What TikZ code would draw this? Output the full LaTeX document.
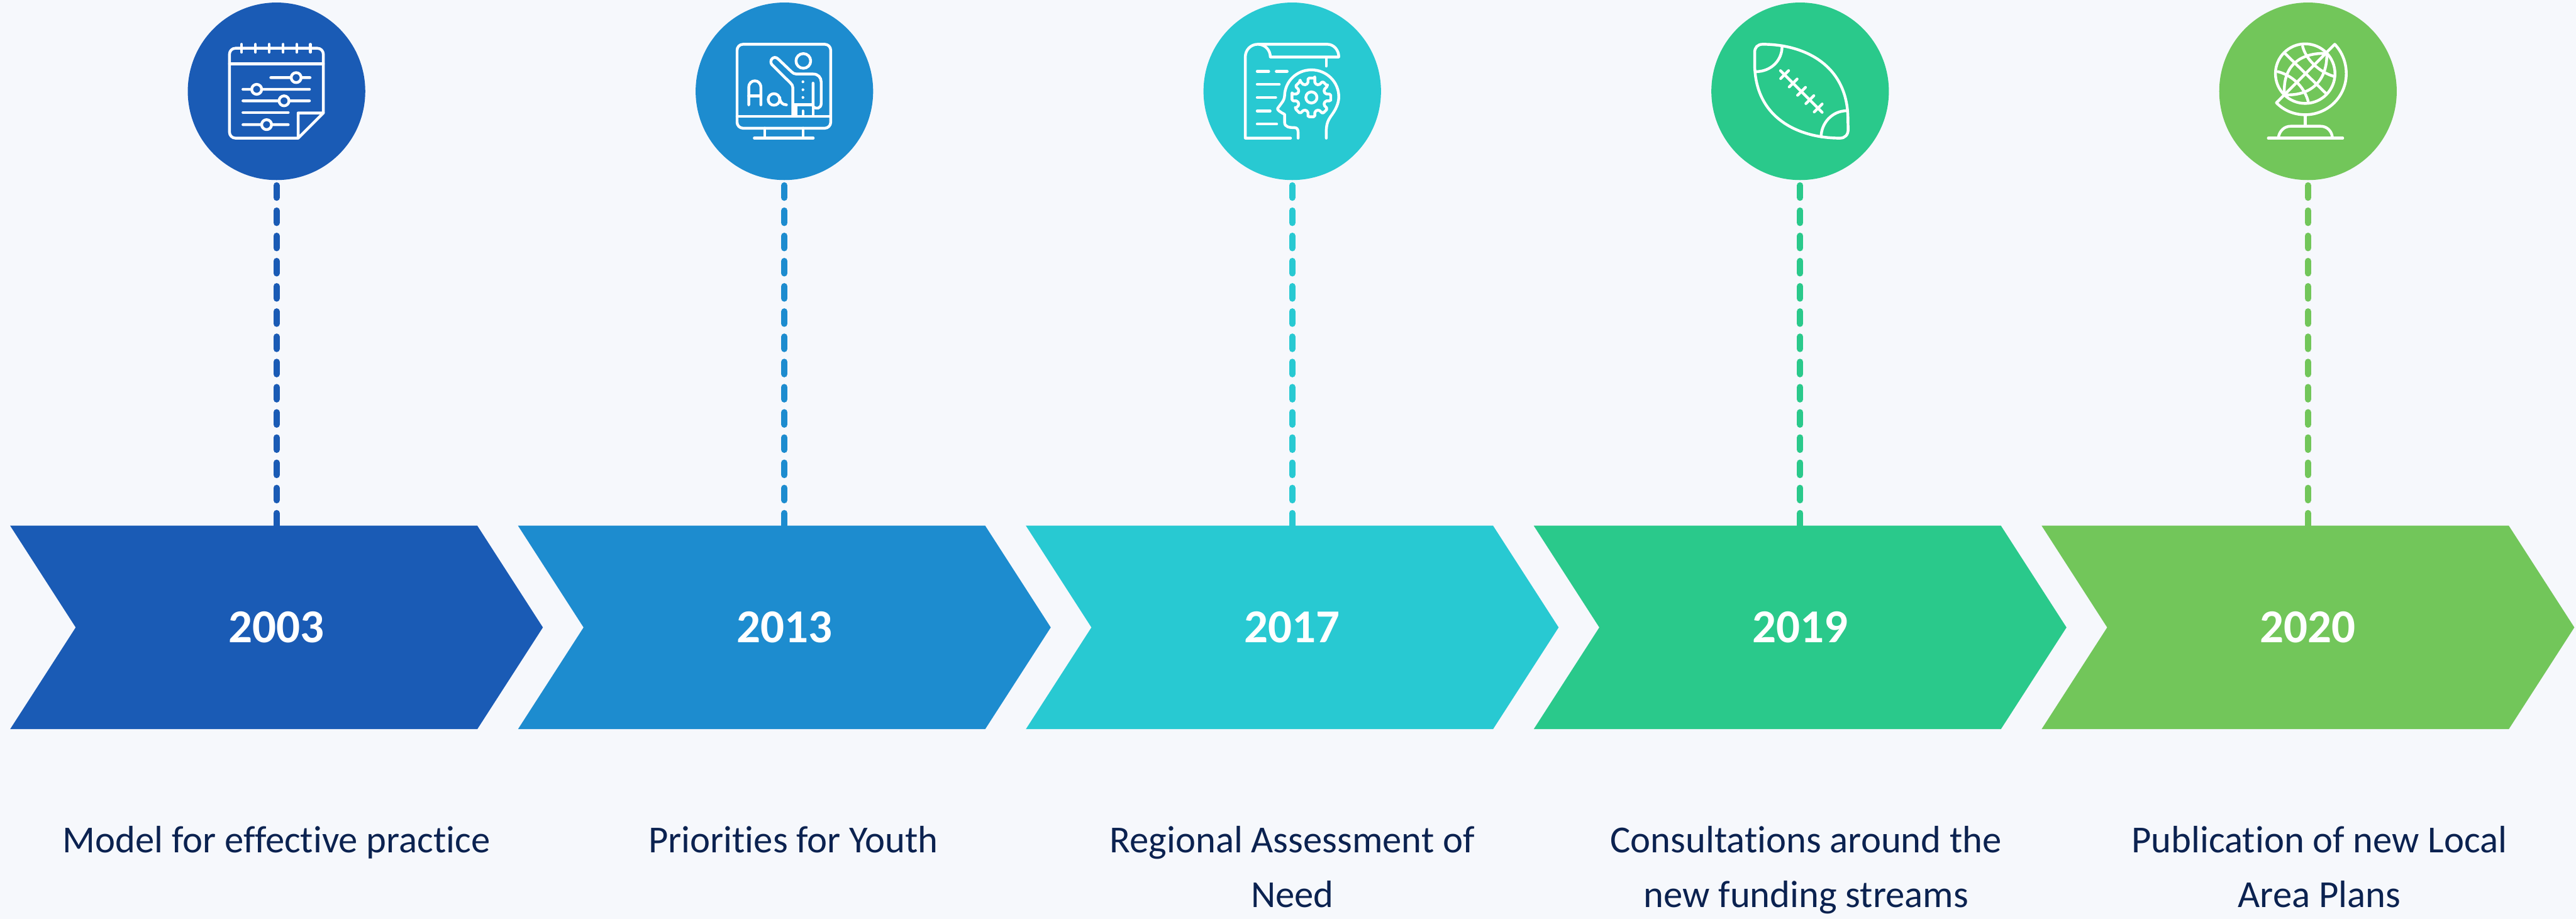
\documentclass[tikz,border=0pt]{standalone}
\usepackage{fontspec}
\setmainfont{Carlito}[Ligatures=NoCommon]
\usetikzlibrary{shapes}
\definecolor{pagecol}{HTML}{F6F8FC}
\definecolor{textcol}{HTML}{0B2250}
\definecolor{col1}{HTML}{1A5BB5}
\definecolor{col2}{HTML}{1D8CCF}
\definecolor{col3}{HTML}{28C9D2}
\definecolor{col4}{HTML}{2AC98B}
\definecolor{col5}{HTML}{72C65A}

\begin{document}
\begin{tikzpicture}[node distance=8.513cm,
    year node/.style={signal,signal from=west,signal to=east,signal pointer angle=114.4,minimum width=8.93cm,minimum height=3.41cm,inner sep=0pt,outer sep=0pt,text=white,font=\fontsize{22.5}{27}\selectfont\bfseries},
    icon node/.style={circle,minimum size=2.975cm,inner sep=0pt,outer sep=0pt,node distance=8.985cm},
    caption node/.style={node distance=3.14cm,anchor=north,text width=8cm,align=flush center,inner sep=0pt,outer sep=0pt,text=textcol,font=\fontsize{18.2}{25.9}\selectfont,execute at begin node=\strut},
    dash line/.style={line width=.107cm,line cap=round,dash pattern=on .205cm off .2175cm,shorten <=.09cm},
    icon line/.style={draw=white,line width=.0467cm,line cap=round,line join=round}]

    \path[fill=pagecol,use as bounding box] (0,0) rectangle (43.18,-15.4);

    \node[year node,fill=col1] (2003) at (4.635,-10.515) {2003};
    \node[year node,fill=col2] (2013) [right of = 2003] {2013};
    \node[year node,fill=col3] (2017) [right of = 2013] {2017};
    \node[year node,fill=col4] (2019) [right of = 2017] {2019};
    \node[year node,fill=col5] (2020) [right of = 2019] {2020};

    \node[icon node,fill=col1] (i2003) [above of = 2003] {};
    \node[icon node,fill=col2] (i2013) [above of = 2013] {};
    \node[icon node,fill=col3] (i2017) [above of = 2017] {};
    \node[icon node,fill=col4] (i2019) [above of = 2019] {};
    \node[icon node,fill=col5] (i2020) [above of = 2020] {};

    \node (t2003) [below of = 2003,caption node] {Model for effective practice};
    \node (t2013) [below of = 2013,caption node,xshift=.15cm] {Priorities for Youth};
    \node (t2017) [below of = 2017,caption node] {Regional Assessment of\\Need};
    \node (t2019) [below of = 2019,caption node,xshift=.1cm] {Consultations around the\\new funding streams};
    \node (t2020) [below of = 2020,caption node,xshift=.19cm] {Publication of new Local\\Area Plans};

    \draw[dash line,col1] (i2003.south) -- (2003.north);
    \draw[dash line,col2] (i2013.south) -- (2013.north);
    \draw[dash line,col3] (i2017.south) -- (2017.north);
    \draw[dash line,col4] (i2019.south) -- (2019.north);
    \draw[dash line,col5] (i2020.south) -- (2020.north);

    % calendar
    \begin{scope}[shift={(i2003.center)},x=.003333cm,y=-.003333cm,shift={(-551,-459)},icon line]
        \draw[rounded corners=.1cm] (660,695) -- (314,695) -- (314,242) -- (787,242) -- (787,568);
        \draw (787,568) -- (660,695) -- (660,568) -- (787,568);
        \draw (314,320) -- (787,320);
        \foreach \x in {375,445,514,584,653,722} \draw (\x,222) -- (\x,262);
        \draw (522,390) -- (622,390) (650,390) circle[radius=25] (680,390) -- (720,390);
        \draw (382,449) -- (422,449) (451,449) circle[radius=25] (482,449) -- (717,449);
        \draw (382,507) -- (560,507) (589,507) circle[radius=25] (618,507) -- (717,507);
        \draw (382,566) -- (610,566);
        \draw (382,627) -- (472,627) (501,627) circle[radius=25] (530,627) -- (610,627);
    \end{scope}

    % screen with teacher
    \begin{scope}[shift={(i2013.center)},x=.003333cm,y=-.003333cm,shift={(-554.5,-459)},icon line]
        \draw[rounded corners=.1cm] (316,222) rectangle (788,645);
        \draw (316,586) -- (788,586);
        \draw (456,645) -- (456,695) (648,645) -- (648,695) (403,695) -- (700,695);
        \draw (650,306) circle[radius=37];
        \draw (597,580) -- (597,440) .. controls (597,430) and (592,424) .. (585,417) -- (492,325)
            .. controls (475,305) and (500,275) .. (522,295) -- (590,360)
            .. controls (598,368) and (605,372) .. (615,372) -- (700,372)
            .. controls (725,372) and (740,390) .. (740,412) -- (740,520)
            .. controls (740,545) and (715,552) .. (699,535) -- (699,418);
        \draw (604,527) -- (699,527) (612,527) -- (612,580) (699,527) -- (699,580) (648,558) -- (648,580);
        \foreach \y in {411,451,490} \fill[white] (648,\y) circle[radius=7];
        \draw (375,527) -- (375,440) .. controls (375,395) and (436,395) .. (436,440) -- (436,527);
        \draw (375,482) -- (436,482);
        \draw (502,500) circle[radius=29];
        \draw (531,490) .. controls (532,515) and (545,527) .. (565,527);
    \end{scope}

    % scroll and head with gear
    \begin{scope}[shift={(i2017.center)},x=.003333cm,y=-.003333cm,shift={(-558.5,-459)},icon line]
        \draw (550,695) -- (322,695) -- (322,285) .. controls (322,250) and (350,222) .. (385,222) -- (735,222)
            .. controls (767,222) and (793,250) .. (793,286) -- (448,286) .. controls (448,250) and (420,222) .. (385,222);
        \draw (730,292) -- (730,332);
        \draw (382,359) -- (440,359) (478,359) -- (533,359) (382,424) -- (493,424);
        \draw (382,490) -- (475,490) (382,558) -- (447,558) (382,624) -- (480,624);
        \draw (730,695) -- (730,655) .. controls (732,620) and (738,605) .. (760,575)
            .. controls (785,540) and (793,510) .. (793,487) .. controls (793,410) and (730,351) .. (655,351)
            .. controls (580,351) and (522,410) .. (520,480) .. controls (519,495) and (515,505) .. (505,518)
            -- (485,545) .. controls (480,552) and (500,565) .. (520,575) -- (520,615)
            .. controls (520,640) and (545,642) .. (570,642) .. controls (585,642) and (588,655) .. (588,665) -- (588,695);
        \begin{scope}[shift={(655,490)}]
            \draw (0,0) circle[radius=28];
            \draw[rounded corners=.02cm] (10:99) \foreach \a in {45,90,...,360} { -- ({\a-35}:99) -- ({\a-31}:72) -- ({\a-14}:72) -- ({\a-10}:99) -- ({\a+10}:99) } -- cycle;
        \end{scope}
    \end{scope}

    % ball
    \begin{scope}[shift={(i2019.center)},x=.003333cm,y=-.003333cm,shift={(-534,-459)},icon line]
        \draw (345,222) .. controls (560,222) and (775,330) .. (775,600) -- (776,650)
            .. controls (777,678) and (760,695) .. (735,695) .. controls (520,695) and (305,590) .. (305,320) -- (305,262)
            .. controls (305,238) and (320,222) .. (345,222) -- cycle;
        \draw (443,230) .. controls (445,300) and (390,360) .. (310,360);
        \draw (640,688) .. controls (640,620) and (695,557) .. (770,557);
        \draw (435,355) -- (645,565);
        \foreach \x/\y in {456/375,499/417,541/459,583/501,625/543} \draw (\x+20,\y-20) -- (\x-20,\y+20);
    \end{scope}

    % globe
    \begin{scope}[shift={(i2020.center)},x=.003333cm,y=-.003333cm,shift={(-537,-459)},icon line]
        \draw (523,370) circle[radius=150];
        \draw (378,517) -- (672,222) .. controls (710,262) and (730,315) .. (730,370)
            .. controls (730,485) and (637,577) .. (523,577) .. controls (465,577) and (415,555) .. (378,517);
        \draw (523,577) -- (523,635);
        \draw (388,690) .. controls (395,655) and (420,635) .. (450,635) -- (600,635) .. controls (630,635) and (655,655) .. (660,690);
        \draw (337,695) -- (712,695);
        \draw (423,270) -- (628,470);
        \draw (625,268) .. controls (510,265) and (410,320) .. (418,470);
        \draw (418,476) .. controls (535,485) and (635,420) .. (632,268);
        \draw (385,360) .. controls (445,375) and (515,425) .. (538,510);
        \draw (510,232) .. controls (525,295) and (590,360) .. (665,383);
    \end{scope}
\end{tikzpicture}
\end{document}
